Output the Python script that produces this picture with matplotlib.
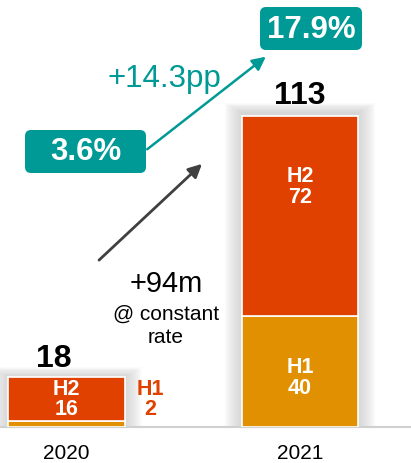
import matplotlib.pyplot as plt
from matplotlib.patches import FancyBboxPatch
from matplotlib.transforms import IdentityTransform
import numpy as np

plt.rcParams['font.family'] = ['Liberation Sans', 'DejaVu Sans']

# данные
years = ['2020', '2021']
h1 = [2, 40]
h2 = [16, 72]
totals = [18, 113]
margin_labels = ['3.6%', '17.9%']
margin_change = '+14.3pp'
growth_label = '+94m'

orange_red = '#E04000'
amber = '#E09000'
teal = '#009A96'

W, H = 411, 463
fig = plt.figure(figsize=(W / 100, H / 100), dpi=100)
ax = fig.add_axes([0, 36 / H, 1, 427 / H])

x = np.arange(len(years))
w = 0.497

# мягкая тень вокруг столбцов
for k in range(12, 0, -1):
    s = 0.0062 * k
    ax.bar(x, np.array(totals) + 0.3 * k, width=w + 2 * s, color='#808080',
           alpha=0.028, linewidth=0, zorder=1)

ax.bar(x, h1, width=w, color=amber, edgecolor='white', linewidth=1.2, zorder=3)
ax.bar(x, h2, bottom=h1, width=w, color=orange_red, edgecolor='white', linewidth=1.2, zorder=3)

# подписи внутри столбцов
lab = dict(ha='center', va='center', fontsize=15.5, fontweight='bold', linespacing=0.95, zorder=4)
ax.text(x[0], h1[0] + h2[0] / 2, 'H2\n' + str(h2[0]), color='white', **lab)
ax.text(x[0] + 0.358, h1[0] + h2[0] / 2, 'H1\n' + str(h1[0]), color=orange_red, **lab)
ax.text(x[1], h1[1] + h2[1] * 0.643, 'H2\n' + str(h2[1]), color='white', **lab)
ax.text(x[1], h1[1] * 0.44, 'H1\n' + str(h1[1]), color='white', **lab)

# итоги
ax.text(x[0] - 0.055, totals[0] + 3.6, str(totals[0]), ha='center', va='baseline',
        fontsize=23, fontweight='bold', color='black')
ax.text(x[1], totals[1] + 3.2, str(totals[1]), ha='center', va='baseline',
        fontsize=23, fontweight='bold', color='black')

ax.set_xlim(-66.5 / 233.5, 1 + 111 / 233.5)
ax.set_ylim(0, 427 / 2.78)
ax.set_xticks(x)
ax.set_xticklabels(years, fontsize=15)
ax.tick_params(axis='x', length=0, pad=12)
ax.set_yticks([])
for sp in ['top', 'left', 'right']:
    ax.spines[sp].set_visible(False)
ax.spines['bottom'].set_color('#d0d0d0')
ax.spines['bottom'].set_linewidth(1.5)


def fpos(px, py):
    return (px / W, 1 - py / H)


def teal_box(x0, y0, x1, y1, text):
    # прямоугольник в пикселях изображения (y сверху вниз)
    p = FancyBboxPatch((x0, H - y1), x1 - x0, y1 - y0,
                       boxstyle='round,pad=0,rounding_size=6',
                       transform=IdentityTransform(), facecolor=teal,
                       edgecolor='none', figure=fig)
    fig.patches.append(p)
    fig.text(*fpos((x0 + x1) / 2, (y0 + y1) / 2 + 1), text, ha='center', va='center',
             color='white', fontsize=22.5, fontweight='bold')


# маржа
teal_box(25, 130, 146, 173, margin_labels[0])
teal_box(260, 7, 362, 50, margin_labels[1])
ax.annotate('', xy=fpos(268, 55), xytext=fpos(145, 151), xycoords='figure fraction',
            textcoords='figure fraction',
            arrowprops=dict(arrowstyle='-|>,head_length=0.8,head_width=0.4', color=teal, lw=1.8))
fig.text(*fpos(164, 87), margin_change, ha='center', va='baseline', color=teal, fontsize=22.5)

# рост
ax.annotate('', xy=fpos(204, 162), xytext=fpos(97, 262), xycoords='figure fraction',
            textcoords='figure fraction',
            arrowprops=dict(arrowstyle='-|>,head_length=0.8,head_width=0.4', color='#404040', lw=2))
fig.text(*fpos(166, 292), growth_label, ha='center', va='baseline', color='black', fontsize=21)
fig.text(*fpos(166, 320), '@ constant', ha='center', va='baseline', color='black', fontsize=15)
fig.text(*fpos(166, 343), 'rate', ha='center', va='baseline', color='black', fontsize=15)

fig.savefig('out.png', dpi=100)
